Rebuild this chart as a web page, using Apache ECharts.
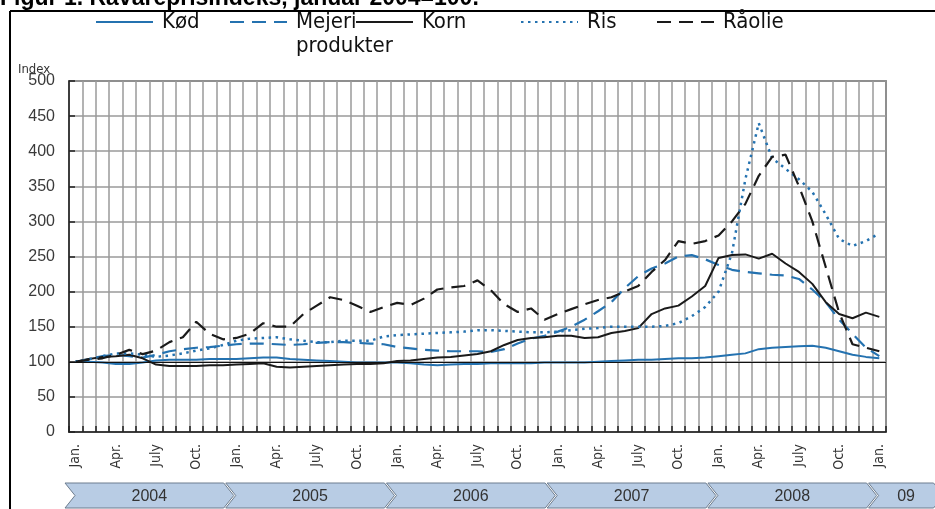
<!DOCTYPE html>
<html><head><meta charset="utf-8">
<script src="https://cdn.jsdelivr.net/npm/echarts@6/dist/echarts.min.js"></script>
<style>html,body{margin:0;padding:0;background:#fff;overflow:hidden}#c{width:935px;height:509px}</style>
</head><body><div id="c"></div>
<script>
// ---- data ----
const categories = [
 '2004-01','2004-02','2004-03','2004-04','2004-05','2004-06','2004-07','2004-08','2004-09','2004-10','2004-11','2004-12',
 '2005-01','2005-02','2005-03','2005-04','2005-05','2005-06','2005-07','2005-08','2005-09','2005-10','2005-11','2005-12',
 '2006-01','2006-02','2006-03','2006-04','2006-05','2006-06','2006-07','2006-08','2006-09','2006-10','2006-11','2006-12',
 '2007-01','2007-02','2007-03','2007-04','2007-05','2007-06','2007-07','2007-08','2007-09','2007-10','2007-11','2007-12',
 '2008-01','2008-02','2008-03','2008-04','2008-05','2008-06','2008-07','2008-08','2008-09','2008-10','2008-11','2008-12',
 '2009-01'];
const quarterLabels = {'01':'Jan.','04':'Apr.','07':'July','10':'Oct.'};
const yearBands = ['2004','2005','2006','2007','2008','09'];
const yearStart = [0,12,24,36,48,60];
const yearSpan = [12,12,12,12,12,5];
const baseLevel = 100;

const kod = [100,100,99,97,97,99,102,103,103,103,104,104,
 104,105,106,106,104,103,102,101,100,99,99,99,
 99,98,96,95,96,97,97,98,98,98,98,99,
 99,99,99,100,101,102,103,103,104,105,105,106,
 108,110,112,118,120,121,122,123,120,115,110,107,105];
const mejeri = [100,104,108,110,108,106,110,115,118,120,121,123,
 125,126,126,125,124,125,127,128,128,127,126,125,
 121,119,117,116,115,115,115,114,118,126,133,137,
 143,150,160,172,185,205,222,233,240,250,252,246,
 238,231,228,226,224,223,218,203,185,160,140,120,108];
const korn = [100,104,107,108,110,105,96,94,94,94,95,95,
 96,97,98,93,92,93,94,95,96,97,97,98,
 101,102,104,106,107,109,111,115,124,131,134,135,
 137,137,134,135,141,144,148,168,176,180,193,208,
 248,252,253,247,254,240,228,211,185,168,162,170,164];
const ris = [100,104,108,112,112,110,107,109,112,116,119,124,
 130,133,134,135,132,130,128,128,130,130,130,136,
 138,139,140,141,142,143,145,145,144,143,142,142,
 143,145,147,148,150,150,150,150,151,155,165,178,
 200,255,360,440,390,375,360,342,310,275,265,272,283];
const raolie = [100,103,105,110,117,111,116,128,135,157,140,132,
 134,140,155,150,150,168,180,192,188,180,171,178,
 184,181,190,203,206,208,216,202,182,171,176,160,
 168,175,182,188,192,200,208,228,245,272,268,272,
 280,300,325,365,392,395,350,300,235,170,125,120,115];

// ---- chart ----
const FONT = 'Liberation Sans, Arial, sans-serif';
const COND = '"DejaVu Sans Condensed", "Liberation Sans", sans-serif';
const BLUE = '#2472b0';
const BLACK = '#1a1a1a';
const chart = echarts.init(document.getElementById('c'), null, {renderer:'canvas'});

function ser(name, data, color, type, width) {
  return {name, type:'line', data, symbol:'none', showSymbol:false,
    lineStyle:{color, width, type}, itemStyle:{color}, emphasis:{disabled:true}, animation:false, z:3};
}
const legendText = {fontFamily:COND, fontSize:22, color:'#111', lineHeight:24};
const legendBase = {padding:0, itemWidth:57, itemHeight:14, itemGap:0, selectedMode:false,
  itemStyle:{opacity:0, borderWidth:0}, textStyle:legendText, formatter:(n)=> '\u2009' + n};

const series = [
  ser('Kød', kod, BLUE, 'solid', 2),
  ser('Mejeriprodukter', mejeri, BLUE, [14,8], 2.2),
  ser('Korn', korn, BLACK, 'solid', 2),
  ser('Ris', ris, BLUE, [2.5,4.5], 2.5),
  ser('Råolie', raolie, BLACK, [14,8], 2.2)
];
series[0].markLine = {silent:true, symbol:'none', label:{show:false}, animation:false,
  lineStyle:{color:'#111', width:1.2, type:'solid'}, data:[{yAxis:baseLevel}]};
series.push({
  type:'custom', clip:false, silent:true, animation:false, z:1,
  data: yearStart.map((s,i)=>[s, yearSpan[i]]),
  encode:{x:0},
  renderItem(params, api){
    const c = api.coord([api.value(0), 0]);
    const bw = api.size([1,0])[0];
    const B0 = c[0] - bw/2, B1 = B0 + api.value(1)*bw;
    const top = 483, bot = 508, mid = (top+bot)/2;
    return {type:'group', children:[
      {type:'polygon', shape:{points:[[B0-4,top],[B1-6,top],[B1+4,mid],[B1-6,bot],[B0-4,bot],[B0+6,mid]]},
       style:{fill:'#b8cce4', stroke:'#6d7d8f', lineWidth:1}},
      {type:'text', style:{text:yearBands[params.dataIndex], x:(B0+B1)/2, y:mid+1, align:'center', verticalAlign:'middle',
       fontSize:16, fontFamily:FONT, fill:'#333'}}
    ]};
  }
});

chart.setOption({
  animation:false,
  backgroundColor:'#fff',
  grid:{left:69, top:81, width:817, height:351, show:true, borderColor:'#444', borderWidth:1.5, containLabel:false},
  legend:[
    Object.assign({}, legendBase, {data:['Kød'], left:95, top:10}),
    Object.assign({}, legendBase, {data:['Mejeriprodukter'], left:229, top:-14,
      formatter:()=> '\u00a0\n\u2009Mejeri-\n\u2009produkter'}),
    Object.assign({}, legendBase, {data:['Korn'], left:355, top:10}),
    Object.assign({}, legendBase, {data:['Ris'], left:520, top:10}),
    Object.assign({}, legendBase, {data:['Råolie'], left:656, top:10})
  ],
  xAxis:{type:'category', data:categories, boundaryGap:true,
    axisLine:{show:true, lineStyle:{color:'#222', width:1.5}},
    axisTick:{show:true, inside:true, interval:0, length:6, lineStyle:{color:'#222', width:1.5}},
    axisLabel:{interval:(i)=> i%3===0, rotate:90, margin:12,
      formatter:(v)=> quarterLabels[v.slice(5)] || '',
      fontFamily:COND, fontSize:14, color:'#333'},
    splitLine:{show:true, interval:0, lineStyle:{color:'#9a9a9a', width:1.5}}},
  yAxis:{type:'value', min:0, max:500, interval:50,
    axisLine:{show:true, lineStyle:{color:'#222', width:1.5}},
    axisTick:{show:true, inside:true, length:6, lineStyle:{color:'#222', width:1.5}},
    axisLabel:{fontFamily:FONT, fontSize:16, color:'#3a3a3a', margin:14},
    splitLine:{show:true, lineStyle:{color:'#9a9a9a', width:1.5}}},
  graphic:[
    {type:'text', x:0, y:10, style:{text:'Figur 1. Råvareprisindeks, januar 2004=100.', font:'bold 23px "Liberation Sans"', fill:'#000', verticalAlign:'bottom'}},
    {type:'line', shape:{x1:10, y1:11, x2:935, y2:11}, style:{stroke:'#000', lineWidth:2}},
    {type:'line', shape:{x1:10, y1:11, x2:10, y2:509}, style:{stroke:'#000', lineWidth:2}},
    {type:'text', x:18, y:70, style:{text:'Index', fontFamily:COND, fontSize:13, fill:'#333', verticalAlign:'middle'}}
  ],
  series
});
</script></body></html>
